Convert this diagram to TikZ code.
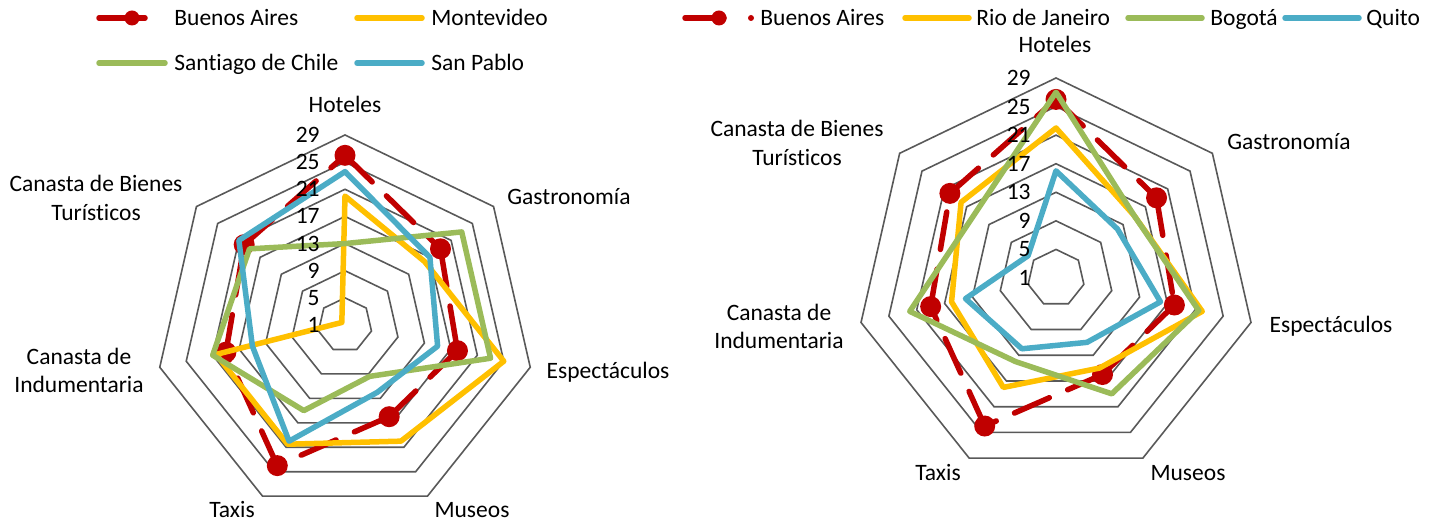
\documentclass[tikz,border=0pt]{standalone}
\usepackage{fontspec}
\setmainfont{Carlito}[Ligatures=NoCommon]
\usepackage{tikz}
\usetikzlibrary{calc}
\definecolor{bared}{RGB}{192,0,0}
\definecolor{ylw}{RGB}{255,192,0}
\definecolor{grn}{RGB}{155,187,89}
\definecolor{blu}{RGB}{75,172,198}
\definecolor{grd}{RGB}{89,89,89}
\tikzstyle{mk}=[circle,fill=bared,minimum size=10.5pt,inner sep=0pt]
\tikzset{
  serie/.style={line width=2.75pt,line cap=round,line join=round},
  baline/.style={serie,draw=bared,dash pattern=on 19pt off 10pt},
}
\newcommand{\radarpts}[3]{%
  \foreach \v [count=\i] in {#3}
    \coordinate (#1-\i) at ({90-(\i-1)*360/7}:{(\v-1)*#2});
}
\newcommand{\radarline}[2]{%
  \draw[serie,draw=#1] (#2-1) -- (#2-2) -- (#2-3) -- (#2-4) -- (#2-5) -- (#2-6) -- (#2-7) -- cycle;
}
\begin{document}
\begin{tikzpicture}[x=0.5pt,y=0.5pt,
font=\fontsize{11.75}{14.25}\selectfont,
ring/.style={draw=grd,line width=0.8pt,line join=miter},
tick/.style={anchor=east,inner sep=0pt},
lbl/.style={align=center,inner sep=0pt},
leg/.style={anchor=base west,inner sep=0pt},
]
\useasboundingbox (0,0) rectangle (1444,524);
% legend, left chart
\coordinate (lg1s) at (99,506); \coordinate (lg1e) at (145,506);
\draw[serie,draw=bared] (lg1s) -- (lg1e);
\node[mk,minimum size=7.5pt] (lg1m) at (132,506) {};
\node[leg] (lg1t) at (174,498.5) {Buenos Aires};
\coordinate (lg2s) at (357,506); \coordinate (lg2e) at (422,506);
\draw[serie,draw=ylw] (lg2s) -- (lg2e);
\node[leg] (lg2t) at (431,498.5) {Montevideo};
\coordinate (lg3s) at (99,461); \coordinate (lg3e) at (165,461);
\draw[serie,draw=grn] (lg3s) -- (lg3e);
\node[leg] (lg3t) at (174,453.5) {Santiago de Chile};
\coordinate (lg4s) at (357,461); \coordinate (lg4e) at (422,461);
\draw[serie,draw=blu] (lg4s) -- (lg4e);
\node[leg] (lg4t) at (431,453.5) {San Pablo};
% legend, right chart
\coordinate (rg1s) at (685,506); \coordinate (rg1e) at (724,506);
\draw[serie,draw=bared] (rg1s) -- (rg1e);
\node[mk,minimum size=7.5pt] (rg1m) at (719,506) {};
\node[mk,minimum size=3pt] (rg1d) at (751,506) {};
\node[leg] (rg1t) at (760,498.5) {Buenos Aires};
\coordinate (rg2s) at (905,506); \coordinate (rg2e) at (969,506);
\draw[serie,draw=ylw] (rg2s) -- (rg2e);
\node[leg] (rg2t) at (976,498.5) {Rio de Janeiro};
\coordinate (rg3s) at (1128,506); \coordinate (rg3e) at (1202,506);
\draw[serie,draw=grn] (rg3s) -- (rg3e);
\node[leg] (rg3t) at (1210,498.5) {Bogotá};
\coordinate (rg4s) at (1285,506); \coordinate (rg4e) at (1359,506);
\draw[serie,draw=blu] (rg4s) -- (rg4e);
\node[leg] (rg4t) at (1366,498.5) {Quito};
% left chart
\begin{scope}[shift={(345,199)}]
\def\k{6.786}
\foreach \r in {4,8,...,28}
  \draw[ring] (90:{\r*\k}) \foreach \i in {1,...,6} {-- ({90-\i*360/7}:{\r*\k})} -- cycle;
\radarpts{lba}{\k}{26,19,18,16,24,19,20}
\radarpts{lmv}{\k}{20,16,25,20,20.5,20.5,1.6}
\radarpts{lsc}{\k}{13,23,23,9.4,15,21,19}
\radarpts{lsp}{\k}{23.6,17,15,12,20,15,21}
\foreach \a/\b in {1/2,2/3,3/4,4/5,5/6,6/7,7/1}
  \draw[baline] (lba-\a) -- (lba-\b);
\foreach \i in {1,...,7}
  \node[mk] (lbam\i) at (lba-\i) {};
\radarline{ylw}{lmv}
\radarline{grn}{lsc}
\radarline{blu}{lsp}
\foreach \v in {1,5,...,29}
  \node[tick] (ltk\v) at (-25,{(\v-1)*\k}) {\v};
\node[lbl] (lhot) at (0,221) {Hoteles};
\node[lbl] (lgas) at (224,128) {Gastronomía};
\node[lbl] (lesp) at (263,-47) {Espectáculos};
\node[lbl] (lmus) at (127,-185) {Museos};
\node[lbl] (ltax) at (-113,-185) {Taxis};
\node[lbl] (lind) at (-266,-45.5) {Canasta de\\Indumentaria};
\node[lbl] (lbie) at (-249,127) {Canasta de Bienes\\Turísticos};
\end{scope}
% right chart
\begin{scope}[shift={(1056,246)}]
\def\k{7.143}
\foreach \r in {4,8,...,28}
  \draw[ring] (90:{\r*\k}) \foreach \i in {1,...,6} {-- ({90-\i*360/7}:{\r*\k})} -- cycle;
\radarpts{rba}{\k}{26,19,18,16,24,19,20}
\radarpts{rrj}{\k}{22,15,22,15,18,16,18}
\radarpts{rbo}{\k}{27,15,21.5,19,14,22,15.5}
\radarpts{rqu}{\k}{16,12,16,11,12,14,6}
\foreach \a/\b in {1/2,2/3,3/4,4/5,5/6,6/7,7/1}
  \draw[baline] (rba-\a) -- (rba-\b);
\foreach \i in {1,...,7}
  \node[mk] (rbam\i) at (rba-\i) {};
\radarline{ylw}{rrj}
\radarline{grn}{rbo}
\radarline{blu}{rqu}
\foreach \v in {1,5,...,29}
  \node[tick] (rtk\v) at (-25,{(\v-1)*\k}) {\v};
\node[lbl] (rhot) at (-1,234) {Hoteles};
\node[lbl] (rgas) at (233,136) {Gastronomía};
\node[lbl] (resp) at (275,-48) {Espectáculos};
\node[lbl] (rmus) at (132,-195) {Museos};
\node[lbl] (rtax) at (-118,-195) {Taxis};
\node[lbl] (rind) at (-277,-48.5) {Canasta de\\Indumentaria};
\node[lbl] (rbie) at (-259,135) {Canasta de Bienes\\Turísticos};
\end{scope}
\end{tikzpicture}
\end{document}
